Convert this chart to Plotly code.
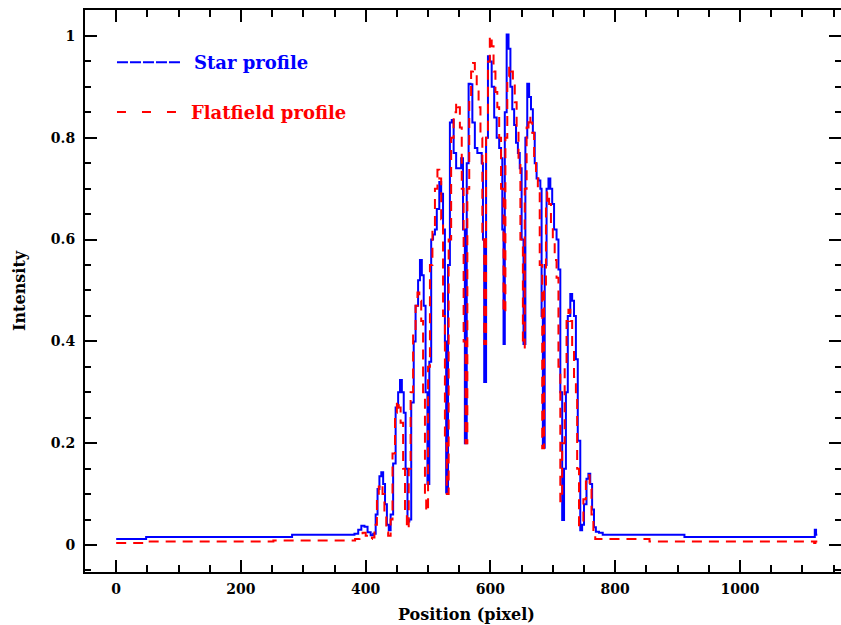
import plotly.graph_objects as go

# Star profile (blue) : position in pixels, normalised intensity
star_x = [0, 48, 282, 382, 388, 393, 398, 403, 408, 412, 416, 419, 422, 425, 428, 431, 434, 437,
          440, 444, 448, 452, 455, 458, 461, 464, 467, 470, 473, 477, 480, 484, 487, 490, 493, 496,
          499, 502, 505, 508, 511, 514, 518, 521, 524, 527, 529, 532, 535, 538, 541, 545, 549, 553,
          556, 559, 562, 565, 568, 571, 575, 579, 583, 586, 588, 590, 593, 596, 599, 602, 606, 610,
          614, 617, 619, 621, 623, 626, 629, 632, 635, 638, 641, 644, 647, 650, 653, 656, 659, 662,
          665, 668, 671, 674, 677, 680, 682, 684, 687, 690, 693, 696, 699, 702, 706, 709, 712, 715,
          718, 721, 724, 728, 731, 734, 737, 740, 744, 747, 750, 754, 757, 760, 763, 766, 769, 774,
          780, 911, 1118, 1120, 1122, 1124]
star_y = [0.012, 0.016, 0.020, 0.022, 0.030, 0.038, 0.036, 0.025, 0.019, 0.022, 0.060, 0.110, 0.135,
          0.143, 0.120, 0.080, 0.040, 0.029, 0.060, 0.160, 0.270, 0.300, 0.324, 0.300, 0.260, 0.150,
          0.046, 0.050, 0.280, 0.400, 0.470, 0.520, 0.560, 0.530, 0.470, 0.300, 0.120, 0.360, 0.600,
          0.610, 0.620, 0.660, 0.713, 0.690, 0.620, 0.400, 0.103, 0.550, 0.830, 0.835, 0.770, 0.740,
          0.740, 0.760, 0.620, 0.200, 0.750, 0.906, 0.905, 0.830, 0.780, 0.770, 0.770, 0.750, 0.600,
          0.320, 0.800, 0.960, 0.950, 0.900, 0.840, 0.800, 0.780, 0.760, 0.620, 0.395, 0.850, 1.003,
          0.975, 0.900, 0.856, 0.825, 0.790, 0.770, 0.740, 0.600, 0.395, 0.800, 0.906, 0.880, 0.856,
          0.810, 0.750, 0.720, 0.716, 0.700, 0.450, 0.191, 0.550, 0.700, 0.720, 0.700, 0.670, 0.620,
          0.600, 0.541, 0.300, 0.049, 0.150, 0.300, 0.450, 0.493, 0.480, 0.450, 0.365, 0.205, 0.029,
          0.040, 0.080, 0.130, 0.140, 0.120, 0.070, 0.035, 0.026, 0.024, 0.020, 0.016, 0.016, 0.030,
          0.020, 0.020]

# Flatfield profile (red)
flat_x = [0, 48, 252, 383, 390, 395, 400, 406, 410, 414, 418, 421, 424, 427, 430, 433, 436, 440,
          443, 447, 450, 453, 456, 460, 463, 466, 469, 472, 476, 480, 483, 486, 489, 492, 495, 497,
          500, 503, 507, 511, 515, 518, 521, 524, 527, 530, 533, 537, 541, 545, 548, 551, 554, 557,
          560, 563, 566, 569, 572, 575, 578, 581, 584, 587, 590, 593, 596, 599, 602, 605, 608, 611,
          614, 617, 621, 624, 627, 630, 633, 636, 639, 642, 645, 648, 652, 655, 658, 661, 664, 667,
          670, 673, 676, 679, 683, 686, 689, 691, 694, 697, 700, 703, 706, 709, 712, 715, 719, 722,
          725, 728, 731, 734, 737, 739, 742, 745, 749, 753, 756, 759, 762, 765, 768, 855, 1119, 1121,
          1124]
flat_y = [0.004, 0.007, 0.009, 0.012, 0.020, 0.024, 0.018, 0.012, 0.015, 0.040, 0.090, 0.115, 0.120,
          0.100, 0.060, 0.025, 0.018, 0.050, 0.180, 0.260, 0.283, 0.270, 0.240, 0.150, 0.060, 0.032,
          0.150, 0.300, 0.420, 0.470, 0.496, 0.480, 0.440, 0.300, 0.100, 0.066, 0.350, 0.550, 0.620,
          0.700, 0.737, 0.720, 0.640, 0.450, 0.200, 0.100, 0.600, 0.800, 0.850, 0.869, 0.860, 0.820,
          0.700, 0.400, 0.200, 0.700, 0.880, 0.930, 0.947, 0.930, 0.900, 0.860, 0.800, 0.600, 0.395,
          0.800, 0.950, 1.000, 0.980, 0.930, 0.890, 0.860, 0.800, 0.700, 0.456, 0.800, 0.920, 0.940,
          0.930, 0.910, 0.870, 0.820, 0.750, 0.600, 0.388, 0.700, 0.820, 0.842, 0.830, 0.810, 0.760,
          0.730, 0.700, 0.550, 0.190, 0.500, 0.670, 0.693, 0.670, 0.630, 0.600, 0.560, 0.525, 0.350,
          0.086, 0.200, 0.350, 0.440, 0.462, 0.440, 0.390, 0.330, 0.287, 0.150, 0.039, 0.045, 0.090,
          0.125, 0.137, 0.110, 0.060, 0.025, 0.012, 0.007, 0.004, 0.007, 0.007]

x_ticks = [0, 200, 400, 600, 800, 1000]
x_ticks_minor = [50 * i for i in range(-1, 24) if i % 4 != 0]
y_ticks = [0, 0.2, 0.4, 0.6, 0.8, 1]
y_ticks_minor = [round(0.05 * i, 2) for i in range(-1, 22) if i % 4 != 0]
x_range = [-50, 1162]
y_range = [-0.053, 1.051]

BLUE = "#0000ff"
RED = "#ff0000"
FONT = "DejaVu Serif"

fig = go.Figure()
fig.add_trace(go.Scatter(x=star_x, y=star_y, mode="lines", line_shape="hv",
                         line=dict(color=BLUE, width=2), name="Star profile"))
fig.add_trace(go.Scatter(x=flat_x, y=flat_y, mode="lines", line_shape="hv",
                         line=dict(color=RED, width=2, dash="10px,7px"),
                         name="Flatfield profile"))

tick_font = dict(family=FONT, size=14, color="black", weight="bold")
bare_ticks = dict(showticklabels=False, showline=False, showgrid=False, zeroline=False,
                  ticks="inside", tickwidth=1.5, tickcolor="black")

fig.update_layout(
    xaxis=dict(range=x_range, tickvals=x_ticks, ticklabelstandoff=3,
               showline=True, linecolor="black", linewidth=2, mirror="ticks",
               ticks="inside", ticklen=12, tickwidth=1.5, tickcolor="black",
               showgrid=False, zeroline=False, tickfont=tick_font),
    # minor position ticks, bottom and top
    xaxis2=dict(range=x_range, overlaying="x", side="bottom", anchor="y",
                tickvals=x_ticks_minor, ticklen=7, mirror="ticks", **bare_ticks),
    yaxis=dict(range=y_range, tickvals=y_ticks, ticklabelstandoff=5,
               showline=True, linecolor="black", linewidth=2, mirror=False,
               ticks="inside", ticklen=12, tickwidth=1.5, tickcolor="black",
               showgrid=False, zeroline=False, tickfont=tick_font),
    # right-hand major ticks (frame edge falls at the page border)
    yaxis2=dict(range=y_range, overlaying="y", side="right", tickvals=y_ticks,
                ticklen=12, **bare_ticks),
    # right-hand minor ticks
    yaxis3=dict(range=y_range, overlaying="y", side="right", tickvals=y_ticks_minor,
                ticklen=6, **bare_ticks),
    # left-hand minor ticks
    yaxis4=dict(range=y_range, overlaying="y", side="left", tickvals=y_ticks_minor,
                ticklen=6, **bare_ticks),
)
# invisible anchors so the extra tick axes are drawn
for xa, ya in (("x", "y2"), ("x", "y3"), ("x", "y4"), ("x2", "y")):
    fig.add_trace(go.Scatter(x=[x_range[0]], y=[y_range[0]], xaxis=xa, yaxis=ya, mode="markers",
                             marker=dict(opacity=0), hoverinfo="skip", showlegend=False))

# Legend drawn inside the frame: line sample plus coloured label
legend_items = [
    dict(text="Star profile", color=BLUE, dash="11px,2px", y=0.907, x_text=0.1415, x1=0.127),
    dict(text="Flatfield profile", color=RED, dash="9px,16px", y=0.8185, x_text=0.1376, x1=0.123),
]
shapes = []
annotations = []
for item in legend_items:
    shapes.append(dict(type="line", xref="paper", yref="paper", x0=0.0423, x1=item["x1"],
                       y0=item["y"], y1=item["y"],
                       line=dict(color=item["color"], width=2, dash=item["dash"])))
    annotations.append(dict(text=item["text"], xref="paper", yref="paper", x=item["x_text"],
                            y=item["y"], xanchor="left", yanchor="middle", showarrow=False,
                            font=dict(family=FONT, size=18, color=item["color"], weight="bold")))

# Axis titles
annotations.append(dict(text="Position (pixel)", xref="paper", yref="paper", x=0.505, y=-0.075,
                        xanchor="center", yanchor="middle", showarrow=False,
                        font=dict(family=FONT, size=16, color="black", weight="bold")))
annotations.append(dict(text="Intensity", xref="paper", yref="paper", x=-0.0873, y=0.5,
                        xanchor="center", yanchor="middle", showarrow=False, textangle=-90,
                        font=dict(family=FONT, size=16, color="black", weight="bold")))

fig.update_layout(width=841, height=625,
                  margin=dict(l=85, r=0, t=10, b=53, autoexpand=False),
                  plot_bgcolor="white", paper_bgcolor="white", showlegend=False,
                  shapes=shapes, annotations=annotations)

fig.write_html("out.html")
